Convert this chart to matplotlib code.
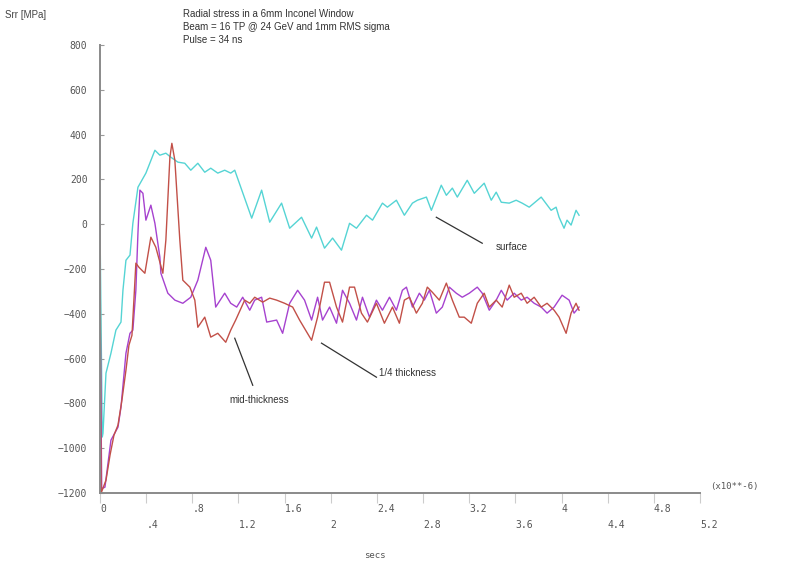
import matplotlib
matplotlib.use("Agg")
import matplotlib.pyplot as plt

# time in microseconds, stress in MPa
surface_t = [0.0, 0.02, 0.026, 0.052, 0.095, 0.138, 0.182, 0.199, 0.225, 0.26, 0.285,
             0.329, 0.398, 0.476, 0.519, 0.571, 0.614, 0.675, 0.735, 0.787, 0.848,
             0.908, 0.960, 1.021, 1.081, 1.133, 1.168, 1.315, 1.401, 1.471, 1.574,
             1.644, 1.747, 1.834, 1.877, 1.946, 2.016, 2.093, 2.163, 2.223, 2.310,
             2.362, 2.448, 2.491, 2.569, 2.638, 2.708, 2.751, 2.829, 2.872, 2.958,
             3.002, 3.054, 3.097, 3.183, 3.244, 3.330, 3.391, 3.434, 3.478, 3.547,
             3.607, 3.659, 3.720, 3.824, 3.910, 3.953, 3.979, 4.022, 4.048, 4.083,
             4.126, 4.152]
surface_v = [0, -950, -933, -665, -576, -473, -437, -295, -161, -138, 4,
             165, 228, 330, 308, 317, 299, 277, 272, 241, 272,
             232, 250, 228, 241, 228, 241, 27, 152, 9, 94,
             -18, 31, -62, -13, -107, -62, -116, 4, -18, 40,
             18, 94, 76, 107, 40, 94, 107, 121, 62, 174,
             129, 161, 121, 196, 138, 183, 107, 143, 98, 94,
             107, 94, 76, 121, 62, 76, 31, -18, 18, -4,
             62, 40]

quarter_t = [0.0, 0.015, 0.043, 0.095, 0.156, 0.182, 0.225, 0.260, 0.285, 0.311,
             0.329, 0.346, 0.372, 0.398, 0.441, 0.476, 0.519, 0.528, 0.588, 0.649,
             0.718, 0.787, 0.848, 0.917, 0.960, 1.003, 1.081, 1.133, 1.185, 1.237,
             1.298, 1.341, 1.401, 1.445, 1.531, 1.583, 1.644, 1.713, 1.773, 1.834,
             1.886, 1.929, 1.990, 2.050, 2.102, 2.163, 2.223, 2.275, 2.336, 2.396,
             2.448, 2.509, 2.569, 2.621, 2.656, 2.708, 2.768, 2.811, 2.855, 2.915,
             2.967, 3.028, 3.088, 3.140, 3.201, 3.270, 3.313, 3.374, 3.434, 3.478,
             3.529, 3.590, 3.651, 3.702, 3.763, 3.824, 3.875, 3.936, 4.005, 4.066,
             4.109, 4.152]
quarter_v = [-320, -1180, -1174, -964, -906, -817, -576, -487, -473, -295,
             -40, 152, 138, 18, 85, 4, -147, -219, -308, -339,
             -353, -326, -250, -103, -161, -370, -308, -353, -370, -326,
             -384, -339, -326, -437, -428, -487, -353, -295, -339, -428,
             -326, -428, -370, -442, -295, -353, -428, -326, -415, -339,
             -384, -326, -384, -295, -281, -370, -308, -339, -295, -397,
             -370, -281, -308, -326, -308, -281, -308, -384, -339, -295,
             -339, -308, -339, -326, -353, -370, -397, -370, -317, -339,
             -397, -370]

mid_t = [0.0, 0.01, 0.052, 0.087, 0.121, 0.156, 0.190, 0.225, 0.251, 0.277,
         0.294, 0.311, 0.337, 0.389, 0.441, 0.484, 0.545, 0.571, 0.606, 0.623,
         0.649, 0.692, 0.718, 0.779, 0.822, 0.848, 0.908, 0.960, 1.021, 1.090,
         1.133, 1.176, 1.254, 1.298, 1.341, 1.410, 1.471, 1.531, 1.600, 1.670,
         1.730, 1.834, 1.886, 1.946, 1.990, 2.050, 2.102, 2.163, 2.206, 2.266,
         2.318, 2.396, 2.465, 2.535, 2.595, 2.638, 2.682, 2.742, 2.794, 2.837,
         2.881, 2.941, 3.002, 3.054, 3.114, 3.157, 3.218, 3.270, 3.330, 3.374,
         3.434, 3.486, 3.547, 3.590, 3.651, 3.702, 3.763, 3.824, 3.875, 3.936,
         3.979, 4.040, 4.083, 4.126, 4.152]
mid_v = [0, -1200, -1143, -1031, -942, -897, -786, -652, -540, -496,
         -339, -174, -192, -219, -58, -103, -219, -71, 299, 361,
         285, -71, -250, -281, -339, -460, -415, -504, -487, -527,
         -473, -428, -339, -353, -326, -348, -330, -339, -353, -370,
         -428, -518, -415, -259, -259, -370, -437, -281, -281, -397,
         -437, -353, -442, -370, -442, -339, -326, -397, -353, -281,
         -304, -339, -263, -339, -415, -415, -442, -353, -308, -370,
         -339, -370, -272, -326, -308, -353, -326, -370, -353, -384,
         -415, -487, -397, -353, -384]

xticks = [0, 0.4, 0.8, 1.2, 1.6, 2.0, 2.4, 2.8, 3.2, 3.6, 4.0, 4.4, 4.8, 5.2]
xtick_labels = ["0", ".4", ".8", "1.2", "1.6", "2", "2.4", "2.8", "3.2", "3.6",
                "4", "4.4", "4.8", "5.2"]
yticks = [-1200, -1000, -800, -600, -400, -200, 0, 200, 400, 600, 800]

title_lines = ["Radial stress in a 6mm Inconel Window",
               "Beam = 16 TP @ 24 GeV and 1mm RMS sigma",
               "Pulse = 34 ns"]

fig = plt.figure(figsize=(7.91, 5.65), dpi=100)
ax = fig.add_axes([0.1264, 0.1274, 0.7585, 0.793])

ax.plot(surface_t, surface_v, color="#55d4d4", lw=1.0)
ax.plot(quarter_t, quarter_v, color="#a642cf", lw=1.0)
ax.plot(mid_t, mid_v, color="#c25048", lw=1.0)

ax.set_xlim(0, 5.2)
ax.set_ylim(-1200, 800)

for side in ("top", "right"):
    ax.spines[side].set_visible(False)
for side in ("left", "bottom"):
    ax.spines[side].set_color("#8a8a8a")
    ax.spines[side].set_linewidth(1.4)

tick_font = dict(family="DejaVu Sans Mono", size=7, color="#555555")

ax.set_yticks(yticks)
ax.set_yticklabels([f"{v:d}".replace("-", "\u2212") for v in yticks], fontdict=tick_font)
ax.tick_params(axis="y", direction="in", length=3, color="#999999", pad=9)

# x labels sit in two staggered rows, left edge at the tick
ax.set_xticks(xticks)
ax.set_xticklabels([])
ax.tick_params(axis="x", direction="out", length=7.5, width=0.8, color="#cccccc")
for i, (t, lab) in enumerate(zip(xticks, xtick_labels)):
    dy = -16 if i % 2 == 0 else -32
    ax.annotate(lab, xy=(t, 0), xycoords=("data", "axes fraction"),
                xytext=(0, dy), textcoords="offset pixels",
                ha="left", va="center", **{k: v for k, v in tick_font.items() if k != "size"},
                fontsize=7)

fig.text(710 / 791, 1 - 487 / 565, "(x10**-6)", family="DejaVu Sans Mono",
         fontsize=6.5, color="#555555", va="center", ha="left")
fig.text(375 / 791, 1 - 555 / 565, "secs", family="DejaVu Sans Mono",
         fontsize=6.5, color="#555555", va="center", ha="center")
fig.text(5 / 791, 1 - 15 / 565, "Srr [MPa]", family="Liberation Sans",
         fontsize=7, color="#444444", va="center", ha="left")

for k, line in enumerate(title_lines):
    fig.text(183 / 791, 1 - (14 + 13 * k) / 565, line, family="Liberation Sans",
             fontsize=7, color="#333333", va="center", ha="left")

# curve labels with leader lines
labels = [("surface", (2.915, 31), (3.313, -85), (3.434, -103)),
          ("1/4 thickness", (1.920, -531), (2.396, -683), (2.422, -665)),
          ("mid-thickness", (1.168, -509), (1.324, -719), (1.125, -786))]
for text, p0, p1, pt in labels:
    ax.plot([p0[0], p1[0]], [p0[1], p1[1]], color="#333333", lw=0.9)
    ax.text(pt[0], pt[1], text, family="Liberation Sans", fontsize=7,
            color="#333333", ha="left", va="center")

fig.savefig("out.png", dpi=100)
